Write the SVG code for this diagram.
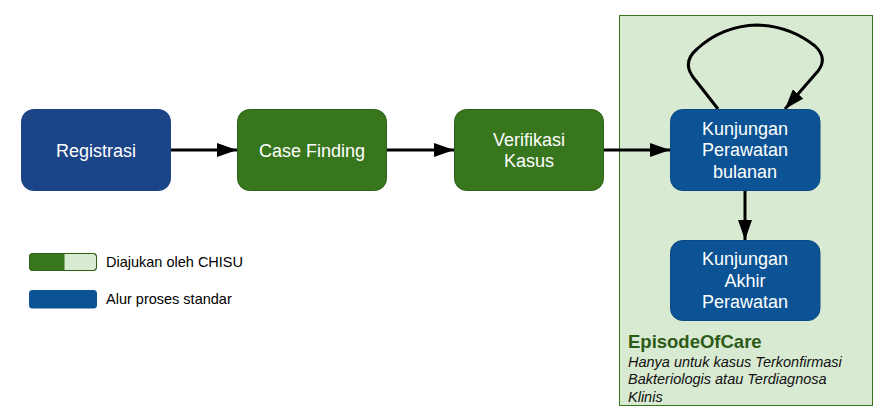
<svg xmlns="http://www.w3.org/2000/svg" width="883" height="420" viewBox="0 0 883 420">
<style>
.node text{font-family:"Liberation Sans",Arial,sans-serif;font-size:18px;fill:#ffffff;text-anchor:middle}
.blue{fill:#1c4587;stroke:#1c4587}
.blue2{fill:#0b5394;stroke:#0b4a84}
.green{fill:#38761d;stroke:#2f6218}
.conn{stroke:#000;stroke-width:3;fill:none}
.legend{font-family:"Liberation Sans",Arial,sans-serif;font-size:14.5px;fill:#000}
</style>
<defs>
<marker id="ah" viewBox="0 0 20 14" refX="20" refY="7" markerWidth="20" markerHeight="14" markerUnits="userSpaceOnUse" orient="auto">
<path d="M0,0 L20,7 L0,14 Z" fill="#000"/>
</marker>
</defs>
<g id="episodeofcare">
<rect x="619.5" y="15.5" width="253" height="390" fill="#d9ead3" stroke="#38761d" stroke-width="1"/>
<text x="628" y="347.5" font-family="Liberation Sans,Arial,sans-serif" font-size="18.5" font-weight="bold" fill="#2d5a17">EpisodeOfCare</text>
<text font-family="Liberation Sans,Arial,sans-serif" font-size="14.5" font-style="italic" fill="#111">
<tspan x="628" y="366.5">Hanya untuk kasus Terkonfirmasi</tspan>
<tspan x="628" y="384">Bakteriologis atau Terdiagnosa</tspan>
<tspan x="628" y="401.5">Klinis</tspan>
</text>
</g>
<g id="connectors">
<line class="conn" x1="171" y1="150" x2="237" y2="150" marker-end="url(#ah)"/>
<line class="conn" x1="387" y1="150" x2="454" y2="150" marker-end="url(#ah)"/>
<line class="conn" x1="604" y1="150" x2="670" y2="150" marker-end="url(#ah)"/>
<line class="conn" x1="745" y1="190" x2="745" y2="240" marker-end="url(#ah)"/>
<path class="conn" d="M718,109 L693,77 Q682,62 697,49 Q722,26 757,25 Q790,26 815,46 Q828,58 818,71 L785,109" marker-end="url(#ah)"/>
</g>
<g id="registrasi" class="node">
<rect class="blue" x="21.5" y="109.5" width="149" height="81" rx="12"/>
<text x="96" y="156.5">Registrasi</text>
</g>
<g id="case-finding" class="node">
<rect class="green" x="237.5" y="109.5" width="149" height="81" rx="12"/>
<text x="312" y="156.5">Case Finding</text>
</g>
<g id="verifikasi-kasus" class="node">
<rect class="green" x="454.5" y="109.5" width="149" height="81" rx="12"/>
<text x="529" y="145.5">Verifikasi</text>
<text x="529" y="167.2">Kasus</text>
</g>
<g id="kunjungan-perawatan-bulanan" class="node">
<rect class="blue2" x="670.5" y="109.5" width="149.5" height="81" rx="12"/>
<text x="745" y="134.8">Kunjungan</text>
<text x="745" y="156.4">Perawatan</text>
<text x="745" y="178">bulanan</text>
</g>
<g id="kunjungan-akhir-perawatan" class="node">
<rect class="blue2" x="670.5" y="240.5" width="149.5" height="80" rx="12"/>
<text x="745" y="265">Kunjungan</text>
<text x="745" y="286.6">Akhir</text>
<text x="745" y="308.2">Perawatan</text>
</g>
<g id="legend">
<rect x="29.5" y="253.5" width="67" height="17" rx="3" fill="#d9ead3" stroke="#2f6218"/>
<path d="M64.5,253.5 H32.5 A3,3 0 0 0 29.5,256.5 V267.5 A3,3 0 0 0 32.5,270.5 H64.5 Z" fill="#38761d"/>
<rect x="29.5" y="253.5" width="67" height="17" rx="3" fill="none" stroke="#2f6218"/>
<text class="legend" x="106" y="267">Diajukan oleh CHISU</text>
<rect x="29" y="290" width="68" height="18.5" rx="3.5" fill="#0b5394"/>
<text class="legend" x="106" y="304">Alur proses standar</text>
</g>
</svg>
